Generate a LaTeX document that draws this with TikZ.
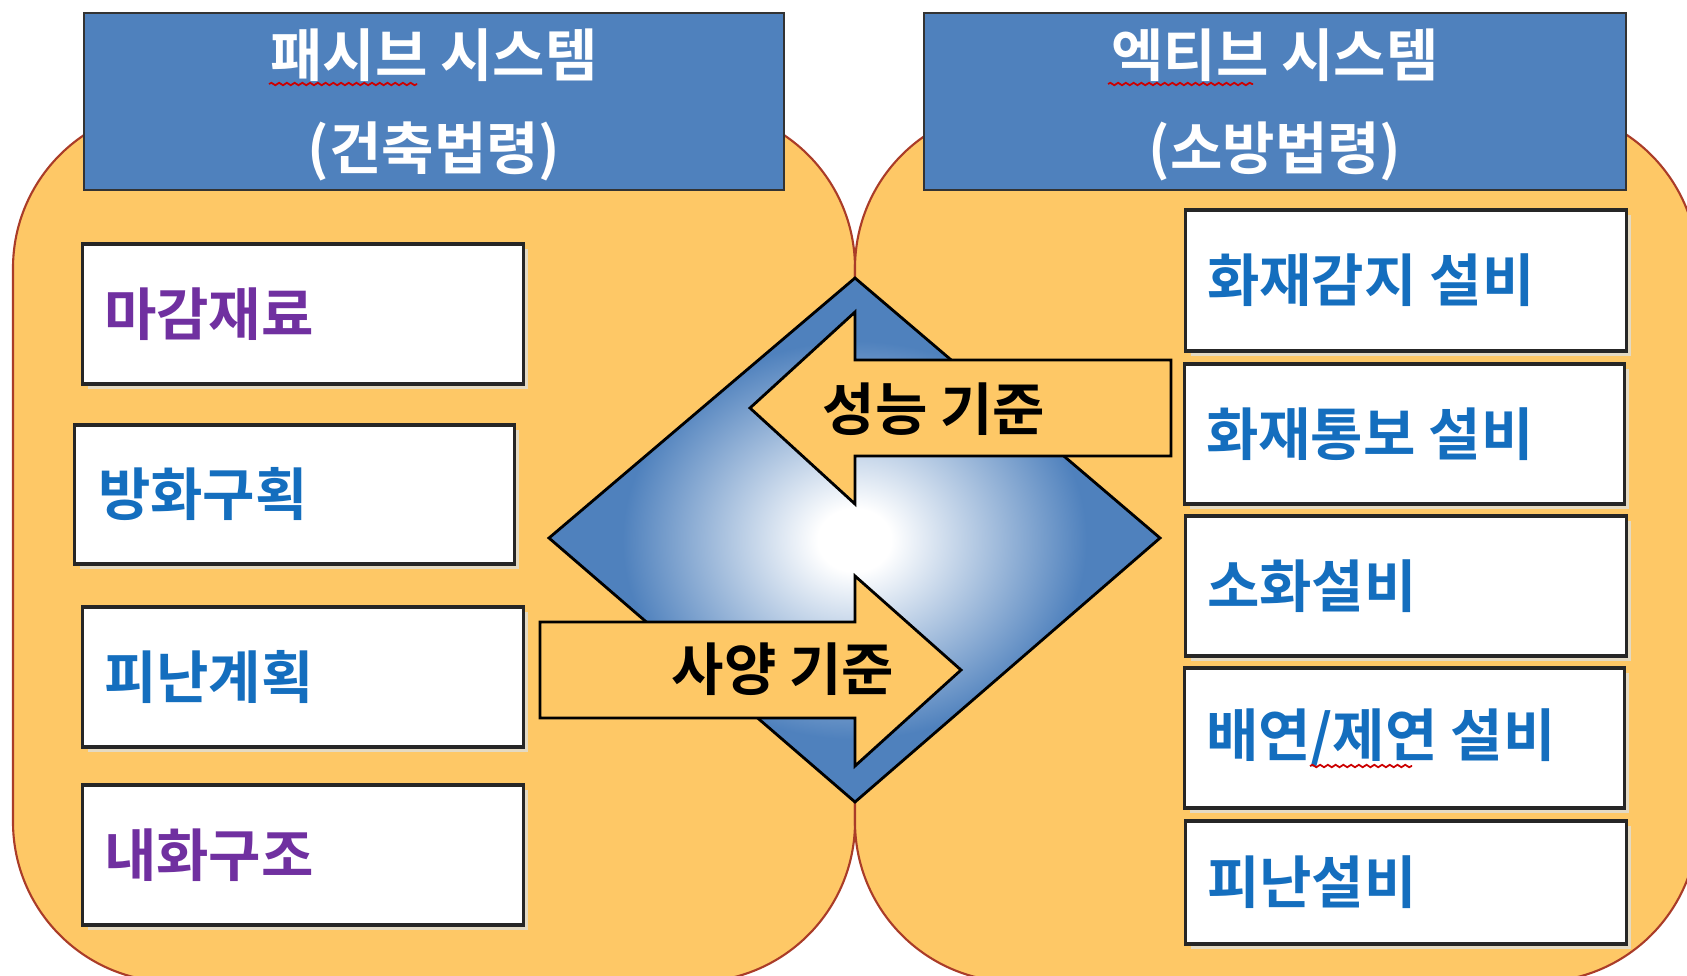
\documentclass[tikz,border=0pt]{standalone}
\usepackage{fontspec}
\setmainfont{Noto Sans CJK KR}[BoldFont={Noto Sans CJK KR Bold}]
\usetikzlibrary{decorations.pathmorphing,shadows}
\definecolor{blob}{RGB}{254,200,102}
\definecolor{blobline}{RGB}{170,60,40}
\definecolor{hdr}{RGB}{79,129,189}
\definecolor{txtblue}{RGB}{20,110,190}
\definecolor{txtpurple}{RGB}{112,48,160}
\definecolor{shadowc}{RGB}{228,218,195}
\pgfdeclareradialshading{diashade}{\pgfpoint{0bp}{0bp}}{color(0bp)=(white); color(3bp)=(white); color(19bp)=(hdr); color(50bp)=(hdr)}
\begin{document}
\begin{tikzpicture}[x=0.01cm,y=-0.01cm,
  blobstyle/.style={fill=blob, draw=blobline, line width=0.6pt, rounded corners=1.6cm},
  header/.style={fill=hdr, draw=black!80, line width=0.8pt, text=white, align=center,
     font=\fontsize{16.2}{26.5}\selectfont\bfseries},
  itembox/.style={fill=white, draw=black!85, line width=0.9pt,
     drop shadow={shadow xshift=0.05cm, shadow yshift=-0.05cm, fill=shadowc, opacity=1}},
  itemtxt/.style={anchor=west, inner sep=0pt, font=\fontsize{16.2}{19}\selectfont\bfseries},
  arrowshape/.style={fill=blob, draw=black, line width=0.8pt, line join=miter},
  arrowtxt/.style={font=\fontsize{16.2}{19}\selectfont\bfseries, text=black},
  squiggle/.style={draw=red!80!black, line width=0.5pt, decorate,
     decoration={snake, amplitude=0.35pt, segment length=2.2pt}}]
\clip (0,0) rectangle (1687,975);
\fill[white] (0,0) rectangle (1687,975);
% blobs
\draw[blobstyle] (13,108) rectangle (855,982);
\draw[blobstyle] (855,108) rectangle (1698,982);
% headers
\path[header] (84,13) rectangle (784,190);
\path[header] (924,13) rectangle (1626,190);
\node[header, draw=none, fill=none] (hl) at (434,105) {패시브 시스템\\(건축법령)};
\node[header, draw=none, fill=none] (hr) at (1275,105) {엑티브 시스템\\(소방법령)};
% left boxes
\node[itembox, minimum width=4.40cm, minimum height=1.40cm] (l1) at (303,314) {};
\node[itemtxt, text=txtpurple] (t1) at ([xshift=0.22cm]l1.west) {마감재료};
\node[itembox, minimum width=4.39cm, minimum height=1.39cm] (l2) at (294.5,494.5) {};
\node[itemtxt, text=txtblue] (t2) at ([xshift=0.24cm]l2.west) {방화구획};
\node[itembox, minimum width=4.40cm, minimum height=1.40cm] (l3) at (303,677) {};
\node[itemtxt, text=txtblue] (t3) at ([xshift=0.22cm]l3.west) {피난계획};
\node[itembox, minimum width=4.40cm, minimum height=1.40cm] (l4) at (303,855) {};
\node[itemtxt, text=txtpurple] (t4) at ([xshift=0.22cm]l4.west) {내화구조};
% right boxes
\node[itembox, minimum width=4.40cm, minimum height=1.41cm] (r1) at (1406,280.5) {};
\node[itemtxt, text=txtblue] (u1) at ([xshift=0.22cm]r1.west) {화재감지 설비};
\node[itembox, minimum width=4.39cm, minimum height=1.40cm] (r2) at (1404.5,434) {};
\node[itemtxt, text=txtblue] (u2) at ([xshift=0.22cm]r2.west) {화재통보 설비};
\node[itembox, minimum width=4.40cm, minimum height=1.40cm] (r3) at (1406,586) {};
\node[itemtxt, text=txtblue] (u3) at ([xshift=0.22cm]r3.west) {소화설비};
\node[itembox, minimum width=4.39cm, minimum height=1.40cm] (r4) at (1404.5,738) {};
\node[itemtxt, text=txtblue] (u4) at ([xshift=0.22cm]r4.west) {배연/제연 설비};
\node[itembox, minimum width=4.40cm, minimum height=1.23cm] (r5) at (1406,882.5) {};
\node[itemtxt, text=txtblue] (u5) at ([xshift=0.22cm]r5.west) {피난설비};
% diamond
\draw[black, line width=0.8pt, shading=diashade] (855,278) -- (1160,538) -- (855,802) -- (549,538) -- cycle;
% arrows
\draw[arrowshape] (1171,360) -- (855,360) -- (855,312) -- (750,408) -- (855,504) -- (855,456) -- (1171,456) -- cycle;
\draw[arrowshape] (540,622) -- (855,622) -- (855,576) -- (961,670) -- (855,766) -- (855,718) -- (540,718) -- cycle;
\node[arrowtxt] (perf) at (934,409) {성능 기준};
\node[arrowtxt] (spec) at (783,669) {사양 기준};
% spell-check squiggles
\draw[squiggle] (269,84) -- (417,84);
\draw[squiggle] (1108,84) -- (1253,84);
\draw[squiggle] (1310,766) -- (1412,766);
\end{tikzpicture}
\end{document}
